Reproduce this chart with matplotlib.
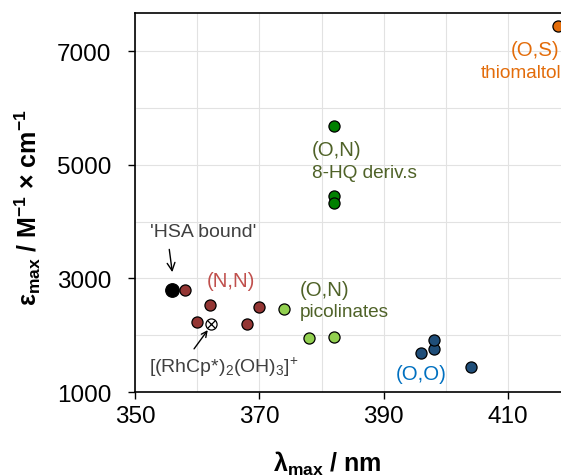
import matplotlib
matplotlib.use("Agg")
import matplotlib.pyplot as plt

plt.rcParams['font.family'] = ['Liberation Sans', 'DejaVu Sans']
plt.rcParams['mathtext.fontset'] = 'custom'
plt.rcParams['mathtext.rm'] = 'Liberation Sans'
plt.rcParams['mathtext.it'] = 'Liberation Sans'
plt.rcParams['mathtext.bf'] = 'Liberation Sans:bold'

# data (lambda_max / nm, epsilon_max / M-1 cm-1)
nn_x = [358, 362, 360, 368, 370]
nn_y = [2800, 2530, 2240, 2200, 2490]
hsa_x = [356]
hsa_y = [2800]
rh_x = [362.2]
rh_y = [2190]
hq_x = [382, 382, 382]
hq_y = [5680, 4450, 4330]
pic_x = [374, 378, 382]
pic_y = [2470, 1950, 1970]
oo_x = [396, 398, 398, 404]
oo_y = [1680, 1750, 1920, 1440]
os_x = [418]
os_y = [7450]

x_ticks = [350, 370, 390, 410]
y_ticks = [1000, 3000, 5000, 7000]
x_grid = [360, 380, 400]
y_grid = [2000, 4000, 6000]

fig = plt.figure(figsize=(5.61, 4.77), dpi=100)
ax = fig.add_axes([0.2406, 0.176, 0.7594, 0.7946])

edge = dict(edgecolor="black", linewidths=0.9, zorder=3)
ax.scatter(nn_x, nn_y, s=64, color="#943634", **edge)
ax.scatter(hsa_x, hsa_y, s=95, color="#000000", **edge)
ax.scatter(rh_x, rh_y, s=64, color="white", marker="o", **edge)
ax.scatter(rh_x, rh_y, s=30, color="black", marker="x", linewidths=0.9, zorder=4)
ax.scatter(hq_x, hq_y, s=64, color="#008000", **edge)
ax.scatter(pic_x, pic_y, s=64, color="#92D050", **edge)
ax.scatter(oo_x, oo_y, s=64, color="#1F4E79", **edge)
ax.scatter(os_x, os_y, s=64, color="#E36C0A", **edge)

# group labels
ax.text(418.3, 7030, "(O,S)", color="#E36C0A", fontsize=14.7, ha="right", va="center")
ax.text(418.6, 6630, "thiomaltol", color="#E36C0A", fontsize=13.7, ha="right", va="center")
ax.text(378.4, 5270, "(O,N)", color="#4F6228", fontsize=14.7, ha="left", va="center")
ax.text(378.4, 4870, "8-HQ deriv.s", color="#4F6228", fontsize=13.7, ha="left", va="center")
ax.text(376.5, 2810, "(O,N)", color="#4F6228", fontsize=14.7, ha="left", va="center")
ax.text(376.5, 2410, "picolinates", color="#4F6228", fontsize=13.7, ha="left", va="center")
ax.text(361.6, 2970, "(N,N)", color="#C0504D", fontsize=14.7, ha="left", va="center")
ax.text(391.9, 1330, "(O,O)", color="#0070C0", fontsize=14.7, ha="left", va="center")

ax.annotate("'HSA bound'", xy=(356.0, 3110), xytext=(352.4, 3830),
            color="#404040", fontsize=14, ha="left", va="center",
            arrowprops=dict(arrowstyle="->", color="black", lw=1,
                            relpos=(0.17, 0), shrinkA=5, shrinkB=0))
ax.text(352.2, 1460, r"[(RhCp*)$_2$(OH)$_3$]$^{+}$", color="#404040",
        fontsize=14, ha="left", va="center")
ax.annotate("", xy=(361.7, 2090), xytext=(359.5, 1760),
            arrowprops=dict(arrowstyle="->", color="black", lw=1,
                            shrinkA=0, shrinkB=0))

ax.set_xlim(350, 418.5)
ax.set_ylim(1000, 7670)
ax.set_xticks(x_ticks)
ax.set_xticks(x_grid, minor=True)
ax.set_yticks(y_ticks)
ax.set_yticks(y_grid, minor=True)
ax.grid(True, which="both", color="#E2E2E2", linewidth=0.8)
ax.set_axisbelow(True)
ax.tick_params(which="major", direction="out", length=5, width=1, labelsize=17.5)
ax.tick_params(axis="y", which="major", pad=12)
ax.tick_params(axis="x", which="major", pad=4)
ax.tick_params(which="minor", length=0)
for side in ["left", "bottom", "top"]:
    ax.spines[side].set_linewidth(1.2)
ax.spines["right"].set_visible(False)

ax.set_xlabel(r"λ$_{\mathbf{max}}$ / nm", fontsize=18, fontweight="bold")
ax.xaxis.set_label_coords(0.451, -0.15)
ax.set_ylabel(r"ε$_{\mathbf{max}}$ / M$^{\mathbf{-1}}$ × cm$^{\mathbf{-1}}$",
              fontsize=18, fontweight="bold")
ax.yaxis.set_label_coords(-0.216, 0.49)

fig.savefig("out.png", dpi=100)
